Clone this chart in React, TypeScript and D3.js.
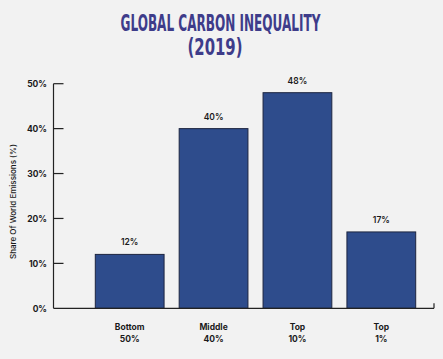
import React, { useLayoutEffect, useRef, useState } from "react";
import * as d3 from "d3";

const categories = ["Bottom 50%", "Middle 40%", "Top 10%", "Top 1%"];
const categoryLines = [["Bottom", "50%"], ["Middle", "40%"], ["Top", "10%"], ["Top", "1%"]];
const values = [12, 40, 48, 17];
const yTicks = [0, 10, 20, 30, 40, 50];
const titleLines = ["GLOBAL CARBON INEQUALITY", "(2019)"];
const yTitle = "Share Of World Emissions (%)";

const W = 443;
const H = 359;
const axisX = 53.5;
const axisRight = 434;
const baseY = 308.3;
const topY = 83.7;

function FitText({ text, cx, y, width }: { text: string; cx: number; y: number; width: number }) {
  const ref = useRef<SVGTextElement>(null);
  const [s, setS] = useState(0.68);
  useLayoutEffect(() => {
    if (ref.current) {
      const w = ref.current.getComputedTextLength();
      if (w > 0) setS(width / w);
    }
  }, [text, width]);
  return (
    <text ref={ref} transform={`translate(${cx},${y}) scale(${s},1)`} textAnchor="middle" fill="#3e3c8a"
      fontFamily="'DejaVu Sans Condensed', 'DejaVu Sans', sans-serif" fontWeight={700} fontSize={23}>{text}</text>
  );
}

export default function App() {
  const x = d3.scaleBand<string>().domain(categories).range([95.3, 415.7]).paddingInner(0.18).paddingOuter(0);
  const y = d3.scaleLinear().domain([0, 50]).range([baseY, topY]);
  const labelFont = "Inter, 'DejaVu Sans', sans-serif";
  return (
    <div style={{ position: "absolute", left: 0, top: 0 }}>
      <svg width={W} height={H} style={{ display: "block", background: "#f2f2f2" }}>
        <rect x={0} y={0} width={W} height={H} fill="#f2f2f2" />
        <FitText text={titleLines[0]} cx={220.5} y={31} width={200} />
        <FitText text={titleLines[1]} cx={215} y={55} width={55} />
        {categories.map((c, i) => (
          <g key={c}>
            <rect x={x(c)!} y={y(values[i])} width={x.bandwidth()} height={baseY - y(values[i])} fill="#2e4c8c" stroke="#1d2540" strokeWidth={1} />
            <text x={x(c)! + x.bandwidth() / 2} y={y(values[i]) - 9} textAnchor="middle" fontFamily={labelFont} fontWeight={600} fontSize={8.5} fill="#1a1a1a">{values[i]}%</text>
            {categoryLines[i].map((ln, j) => (
              <text key={j} x={x(c)! + x.bandwidth() / 2} y={330 + j * 11.5} textAnchor="middle" fontFamily={labelFont} fontWeight={700} fontSize={8.5} fill="#1a1a1a">{ln}</text>
            ))}
          </g>
        ))}
        <line x1={axisX} x2={axisX} y1={topY} y2={baseY} stroke="#222" strokeWidth={1.2} />
        <line x1={axisX} x2={axisRight} y1={baseY} y2={baseY} stroke="#222" strokeWidth={1.2} />
        <line x1={axisRight} x2={axisRight} y1={baseY} y2={baseY - 5} stroke="#222" strokeWidth={1.2} />
        {yTicks.map((t) => (
          <g key={t}>
            {t > 0 && <line x1={axisX} x2={axisX + 10} y1={y(t)} y2={y(t)} stroke="#222" strokeWidth={1.2} />}
            <text x={47} y={y(t) + 3.5} textAnchor="end" fontFamily={labelFont} fontWeight={700} fontSize={8.5} fill="#1a1a1a">{t}%</text>
          </g>
        ))}
        <text transform={`translate(16,201.5) rotate(-90)`} textAnchor="middle" fontFamily={labelFont} fontWeight={500} fontSize={8} fill="#1a1a1a">{yTitle}</text>
      </svg>
    </div>
  );
}
